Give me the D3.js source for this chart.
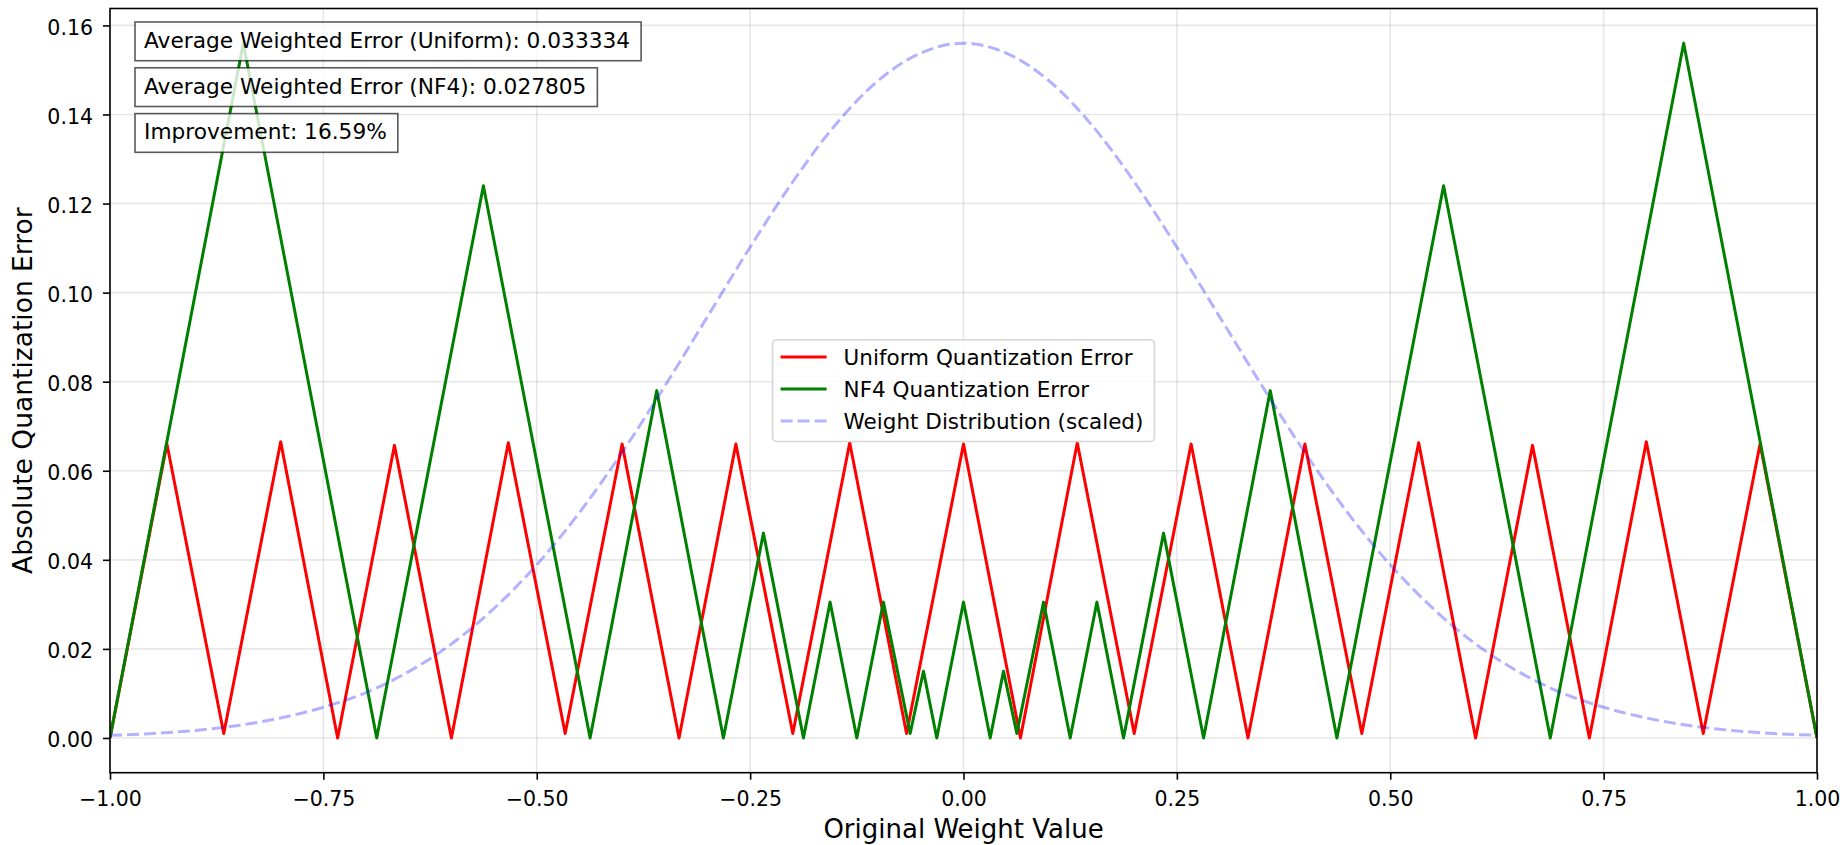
<!DOCTYPE html>
<html>
<head>
<meta charset="utf-8">
<script src="https://cdn.jsdelivr.net/npm/d3@7"></script>
<style>
  body { margin: 0; background: #fff; }
  svg text { font-family: "DejaVu Sans", sans-serif; fill: #000; }
</style>
</head>
<body>
<svg id="chart"></svg>
<script>
// error curves (vertices of the saw-tooth lines)
const uniformX = [-1, -0.9333, -0.8667, -0.8, -0.7333, -0.6667, -0.6, -0.5333, -0.4667, -0.4, -0.3333,
    -0.2667, -0.2, -0.1333, -0.0667, 0, 0.0667, 0.1333, 0.2, 0.2667, 0.3333, 0.4, 0.4667,
    0.5333, 0.6, 0.6667, 0.7333, 0.8, 0.8667, 0.9333, 1];
const uniformErr = [0, 0.066, 0.001, 0.0665, 0, 0.0657, 0, 0.0663, 0.001, 0.066, 0,
    0.066, 0.001, 0.0663, 0.001, 0.066, 0, 0.0663, 0.001, 0.066, 0, 0.066, 0.001,
    0.0663, 0, 0.0657, 0, 0.0665, 0.001, 0.066, 0];

const nf4X = [-1, -0.8438, -0.6875, -0.5625, -0.4375, -0.3594, -0.2813, -0.2344, -0.1875, -0.1563,
    -0.125, -0.0938, -0.0625, -0.0469, -0.0313, 0, 0.0313, 0.0469, 0.0625, 0.0938, 0.125,
    0.1563, 0.1875, 0.2344, 0.2813, 0.3594, 0.4375, 0.5625, 0.6875, 0.8438, 1];
const nf4Err = [0, 0.156, 0, 0.124, 0, 0.078, 0, 0.046, 0, 0.0305,
    0, 0.0305, 0.001, 0.015, 0, 0.0305, 0, 0.015, 0.001, 0.0305, 0,
    0.0305, 0, 0.046, 0, 0.078, 0, 0.124, 0, 0.156, 0];

// scaled weight distribution, sampled every 0.05
const distX = d3.range(41).map(i => -1 + i * 0.05);
const distY = [0.0006, 0.0010, 0.0017, 0.0028, 0.0045, 0.0069, 0.0102, 0.0149, 0.0211, 0.0291,
    0.0389, 0.0506, 0.0641, 0.0790, 0.0946, 0.1102, 0.1249, 0.1377, 0.1476, 0.1538, 0.1560,
    0.1538, 0.1476, 0.1377, 0.1249, 0.1102, 0.0946, 0.0790, 0.0641, 0.0506, 0.0389,
    0.0291, 0.0211, 0.0149, 0.0102, 0.0069, 0.0045, 0.0028, 0.0017, 0.0010, 0.0006];

const xTicks = [-1, -0.75, -0.5, -0.25, 0, 0.25, 0.5, 0.75, 1];
const yTicks = [0, 0.02, 0.04, 0.06, 0.08, 0.10, 0.12, 0.14, 0.16];

const statLines = [
    'Average Weighted Error (Uniform): 0.033334',
    'Average Weighted Error (NF4): 0.027805',
    'Improvement: 16.59%'
];
const seriesNames = ['Uniform Quantization Error', 'NF4 Quantization Error', 'Weight Distribution (scaled)'];
const seriesColors = ['#ff0000', '#008000', 'rgba(0,0,255,0.3)'];

const size = {w: 1847, h: 845};
const plot = {l: 110, r: 1817, t: 8.5, b: 772.7};

const svg = d3.select('svg#chart')
    .attr('width', size.w)
    .attr('height', size.h);

const x = d3.scaleLinear().domain([-1, 1]).range([plot.l, plot.r]);
const y = d3.scaleLinear().domain([-0.0078, 0.1638]).range([plot.b, plot.t]);

// grid
const grid = svg.append('g').classed('grid', true)
    .attr('stroke', '#b0b0b0').attr('stroke-opacity', 0.3).attr('stroke-width', 1.6);
grid.selectAll('line.gx')
    .data(xTicks)
    .join('line')
    .attr('x1', d => x(d)).attr('x2', d => x(d))
    .attr('y1', plot.t).attr('y2', plot.b);
grid.selectAll('line.gy')
    .data(yTicks)
    .join('line')
    .attr('class', 'gy')
    .attr('x1', plot.l).attr('x2', plot.r)
    .attr('y1', d => y(d)).attr('y2', d => y(d));

// the three series
const line = d3.line()
    .x(d => x(d[0]))
    .y(d => y(d[1]));

svg.append('clipPath').attr('id', 'clip')
    .append('rect')
    .attr('x', plot.l).attr('y', plot.t)
    .attr('width', plot.r - plot.l).attr('height', plot.b - plot.t);

const lines = svg.append('g').attr('clip-path', 'url(#clip)')
    .attr('fill', 'none').attr('stroke-linejoin', 'round');

lines.append('path')
    .attr('d', line(d3.zip(uniformX, uniformErr)))
    .attr('stroke', seriesColors[0])
    .attr('stroke-width', 3);

lines.append('path')
    .attr('d', line(d3.zip(nf4X, nf4Err)))
    .attr('stroke', seriesColors[1])
    .attr('stroke-width', 3);

lines.append('path')
    .attr('d', line.curve(d3.curveMonotoneX)(d3.zip(distX, distY)))
    .attr('stroke', seriesColors[2])
    .attr('stroke-width', 3)
    .attr('stroke-dasharray', '12,5');

// axes
const xAxis = svg.append('g')
    .attr('transform', `translate(0, ${plot.b})`)
    .call(d3.axisBottom(x).tickValues(xTicks).tickFormat(d3.format('.2f'))
        .tickSize(7).tickPadding(11.4));
const yAxis = svg.append('g')
    .attr('transform', `translate(${plot.l}, 0)`)
    .call(d3.axisLeft(y).tickValues(yTicks).tickFormat(d3.format('.2f'))
        .tickSize(7).tickPadding(10));

[xAxis, yAxis].forEach(a => {
    a.select('.domain').remove();
    a.selectAll('line').attr('stroke', '#000').attr('stroke-width', 1.6);
    a.selectAll('text').attr('font-size', 20.5).attr('font-family', '"DejaVu Sans", sans-serif').attr('fill', '#000');
});
yAxis.selectAll('text').attr('dy', '0.44em');

// frame
svg.append('rect')
    .attr('x', plot.l).attr('y', plot.t)
    .attr('width', plot.r - plot.l).attr('height', plot.b - plot.t)
    .attr('fill', 'none').attr('stroke', '#000').attr('stroke-width', 1.6);

// axis labels
svg.append('text')
    .attr('x', (plot.l + plot.r) / 2).attr('y', 838)
    .attr('text-anchor', 'middle')
    .attr('font-size', 26)
    .text('Original Weight Value');

svg.append('text')
    .attr('transform', `translate(32, ${(plot.t + plot.b) / 2}) rotate(-90)`)
    .attr('text-anchor', 'middle')
    .attr('font-size', 26.5)
    .text('Absolute Quantization Error');

// stat boxes top-left
const stats = svg.append('g').classed('stats', true);
statLines.forEach((s, i) => {
    const base = 47.7 + i * 45.8;
    const g = stats.append('g');
    const r = g.append('rect');
    const t = g.append('text')
        .attr('x', 144).attr('y', base)
        .attr('font-size', 21.7)
        .text(s);
    const w = t.node().getComputedTextLength();
    r.attr('x', 135).attr('y', base - 25.7)
        .attr('width', w + 20).attr('height', 38.7)
        .attr('fill', 'rgba(255,255,255,0.8)')
        .attr('stroke', 'rgba(0,0,0,0.65)')
        .attr('stroke-width', 1.6);
});

// legend in the centre
const legend = svg.append('g').classed('legend', true);
const legendBox = legend.append('rect');
const cx = (plot.l + plot.r) / 2;
const cy = (plot.t + plot.b) / 2;
const items = legend.selectAll('g.item')
    .data(seriesNames)
    .join('g')
    .attr('class', 'item');
items.append('text')
    .attr('font-size', 21.5)
    .attr('dy', '0.36em')
    .text(d => d);
const maxW = d3.max(items.selectAll('text').nodes(), n => n.getComputedTextLength());
const boxW = 8 + 46 + 17 + maxW + 11;
const boxH = 101.7;
const bx = cx - boxW / 2;
const by = cy - boxH / 2;
legendBox.attr('x', bx).attr('y', by)
    .attr('width', boxW).attr('height', boxH)
    .attr('rx', 4)
    .attr('fill', 'rgba(255,255,255,0.8)')
    .attr('stroke', '#d6d6d6')
    .attr('stroke-width', 1.6);
items.attr('transform', (d, i) => `translate(${bx + 8}, ${cy - 33.5 + i * 32})`);
items.append('line')
    .attr('x1', 0).attr('x2', 46)
    .attr('stroke', (d, i) => seriesColors[i])
    .attr('stroke-width', 3)
    .attr('stroke-dasharray', (d, i) => i === 2 ? '12,5' : null);
items.select('text').attr('x', 63);
</script>
</body>
</html>
